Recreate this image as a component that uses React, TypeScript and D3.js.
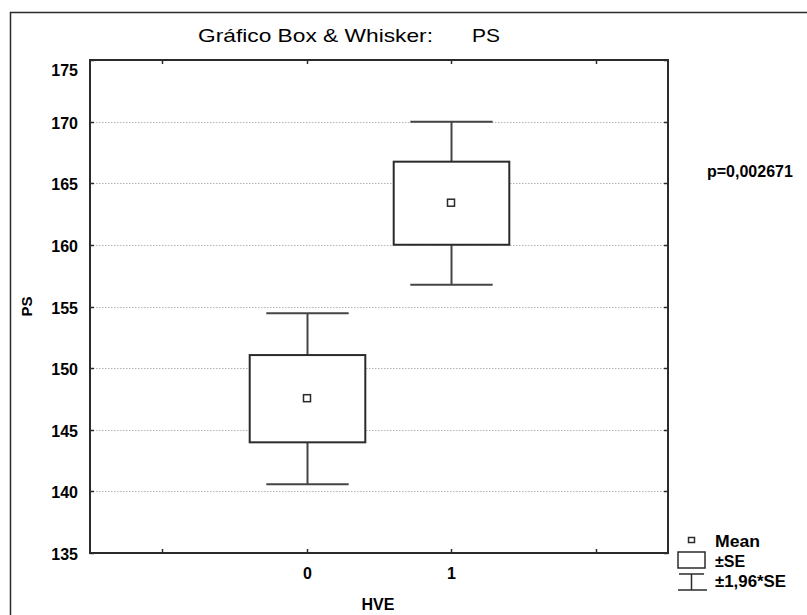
import React from "react";
import * as d3 from "d3";

// Group means and standard errors of PS by HVE
const groups = ["0", "1"];
const means = [147.52, 163.38];
const stdErrs = [3.54, 3.37];

// Category slots along x (outer slots are empty)
const xSlots = ["lo", "0", "1", "hi"];
const yTicks = [135, 140, 145, 150, 155, 160, 165, 170, 175];
const gridValues = [140, 145, 150, 155, 160, 165, 170];

const title = "Gráfico Box & Whisker:";
const varName = "PS";
const xLabel = "HVE";
const yLabel = "PS";
const pLabel = "p=0,002671";
const legendItems = ["Mean", "±SE", "±1,96*SE"];

const W = 807;
const H = 615;
const plot = { left: 90, right: 668, top: 60, bottom: 553 };

export default function App() {
  const x = d3
    .scalePoint<string>()
    .domain(xSlots)
    .range([plot.left, plot.right])
    .padding(0.5);
  const y = d3.scaleLinear().domain([135, 175]).range([plot.bottom, plot.top]);
  const step = x.step();
  const boxW = step * 0.8;
  const capW = step * 0.57;
  const dark = "#2b2b2b";
  const font = "'Liberation Sans', Arial, sans-serif";
  const tickLen = 4;
  const labelSize = 16;

  return (
    <svg
      width={W}
      height={H}
      style={{ position: "absolute", left: 0, top: 0, background: "#fff" }}
      fontFamily={font}
    >
      <rect x={0} y={0} width={W} height={H} fill="#fff" />
      {/* outer frame */}
      <path d={`M10.5,${H} V12.5 H${W}`} fill="none" stroke={dark} strokeWidth={1.5} />

      {/* title */}
      <text x={198} y={42} fontSize={18.5} fill="#000" textLength={235} lengthAdjust="spacingAndGlyphs">
        {title}
      </text>
      <text x={472} y={42} fontSize={18.5} fill="#000" textLength={28} lengthAdjust="spacingAndGlyphs">
        {varName}
      </text>

      {/* grid */}
      {gridValues.map((v) => (
        <line
          key={"g" + v}
          x1={plot.left}
          x2={plot.right}
          y1={Math.round(y(v)) + 0.5}
          y2={Math.round(y(v)) + 0.5}
          stroke="#b4b4b4"
          strokeWidth={1}
          strokeDasharray="1.5,1.5"
        />
      ))}

      {/* y ticks & labels */}
      {yTicks.map((v) => {
        const yy = Math.round(y(v)) + 0.5;
        // keep the top label inside the frame
        const ly = Math.max(yy, plot.top + 10);
        return (
          <g key={"yt" + v}>
            <line x1={plot.left} x2={plot.left + tickLen} y1={yy} y2={yy} stroke={dark} strokeWidth={1.5} />
            <line x1={plot.right} x2={plot.right - tickLen} y1={yy} y2={yy} stroke={dark} strokeWidth={1.5} />
            <text x={78} y={ly + 6} textAnchor="end" fontSize={labelSize} fontWeight="bold" fill="#000">
              {v}
            </text>
          </g>
        );
      })}

      {/* x ticks & labels */}
      {xSlots.map((s) => {
        const xx = Math.round(x(s)!) + 0.5;
        return (
          <g key={"xt" + s}>
            <line x1={xx} x2={xx} y1={plot.bottom} y2={plot.bottom - tickLen} stroke={dark} strokeWidth={1.5} />
            <line x1={xx} x2={xx} y1={plot.top} y2={plot.top + tickLen} stroke={dark} strokeWidth={1.5} />
            {groups.includes(s) && (
              <text x={xx} y={579} textAnchor="middle" fontSize={labelSize} fontWeight="bold" fill="#000">
                {s}
              </text>
            )}
          </g>
        );
      })}

      {/* boxes and whiskers */}
      {groups.map((g, i) => {
        const cx = Math.round(x(g)!) + 0.5;
        const m = means[i];
        const se = stdErrs[i];
        const yTop = y(m + se);
        const yBot = y(m - se);
        const wTop = y(m + 1.96 * se);
        const wBot = y(m - 1.96 * se);
        const ym = y(m);
        return (
          <g key={"b" + g}>
            <line x1={cx} x2={cx} y1={wTop} y2={yTop} stroke="#444" strokeWidth={2} />
            <line x1={cx} x2={cx} y1={yBot} y2={wBot} stroke="#444" strokeWidth={2} />
            <line x1={cx - capW / 2} x2={cx + capW / 2} y1={wTop} y2={wTop} stroke="#444" strokeWidth={2} />
            <line x1={cx - capW / 2} x2={cx + capW / 2} y1={wBot} y2={wBot} stroke="#444" strokeWidth={2} />
            <rect
              x={cx - boxW / 2}
              y={yTop}
              width={boxW}
              height={yBot - yTop}
              fill="#fff"
              stroke={dark}
              strokeWidth={2}
            />
            <rect x={cx - 4} y={ym - 4} width={7} height={7} fill="#fff" stroke={dark} strokeWidth={1.5} />
          </g>
        );
      })}

      {/* plot frame */}
      <rect
        x={plot.left}
        y={plot.top}
        width={plot.right - plot.left}
        height={plot.bottom - plot.top}
        fill="none"
        stroke={dark}
        strokeWidth={2}
      />

      {/* axis titles */}
      <text x={378} y={610} textAnchor="middle" fontSize={labelSize} fontWeight="bold" fill="#000">
        {xLabel}
      </text>
      <text
        transform={`translate(32,${(plot.top + plot.bottom) / 2}) rotate(-90)`}
        textAnchor="middle"
        fontSize={15}
        fontWeight="bold"
        fill="#000"
      >
        {yLabel}
      </text>

      {/* p value */}
      <text x={707} y={177} fontSize={labelSize} fontWeight="bold" fill="#000">
        {pLabel}
      </text>

      {/* legend */}
      <rect x={688.5} y={537.5} width={6} height={5} fill="#fff" stroke={dark} strokeWidth={1.5} />
      <text x={715} y={547} fontSize={labelSize} fontWeight="bold" fill="#000" textLength={45} lengthAdjust="spacingAndGlyphs">
        {legendItems[0]}
      </text>
      <rect x={678} y={552} width={27} height={16} fill="#fff" stroke={dark} strokeWidth={1.5} />
      <text x={715} y={567} fontSize={labelSize} fontWeight="bold" fill="#000">
        {legendItems[1]}
      </text>
      <line x1={679} x2={704} y1={574} y2={574} stroke={dark} strokeWidth={1.5} />
      <line x1={691.5} x2={691.5} y1={574} y2={590} stroke={dark} strokeWidth={1.5} />
      <line x1={678} x2={707} y1={590} y2={590} stroke={dark} strokeWidth={1.5} />
      <text x={715} y={587} fontSize={labelSize} fontWeight="bold" fill="#000" textLength={71} lengthAdjust="spacingAndGlyphs">
        {legendItems[2]}
      </text>
    </svg>
  );
}
